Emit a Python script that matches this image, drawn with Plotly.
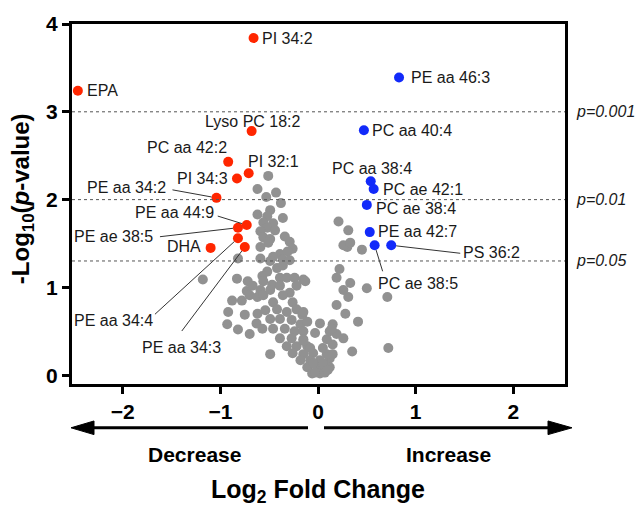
import math
import plotly.graph_objects as go

# ---------------- data ----------------
grey_x = [-0.51, -0.62, -0.43, -0.53, -0.38, -0.49, -0.62, -0.52, -0.36, -0.46,
          -0.56, -0.52, -0.44, -0.59, -0.56, -0.49, -0.34, -0.29, -0.51, -0.59,
          -0.26, -0.39, -0.31, -0.46, -0.36, -0.49, -0.29, -0.59, -0.82, -0.42,
          -0.36, -0.52, -0.57, -0.39, -0.32, -0.24, -0.15, -0.56, -1.18, -0.83,
          -0.72, -0.47, -0.73, -0.67, -0.59, -0.70, -0.62, -0.88, -0.78, -0.56,
          -0.49, -0.39, -0.29, -0.22, -0.36, -0.46, -0.26, -0.92, -0.75, -0.62,
          -0.54, -0.42, -0.32, -0.22, -0.16, -0.49, -0.39, -0.27, -0.18, -0.93,
          -0.82, -0.70, -0.63, -0.57, -0.46, -0.34, -0.24, -0.15, -0.39, -0.27,
          -0.15, -0.32, -0.22, -0.11, -0.49, -0.26, -0.15, -0.05, -0.18, -0.08,
          0.02, -0.11, -0.01, -0.06, 0.02, 0.07, 0.12, 0.09, 0.05, 0.15,
          0.09, 0.15, 0.02, 0.12, 0.19, 0.14, 0.26, -0.03, -0.15, -0.08,
          0.15, 0.12, 0.35, 0.41, 0.28, 0.19, 0.31, 0.50, 0.71, 0.72,
          0.26, 0.33, 0.19, 0.22, 0.45, 0.30, 0.26, 0.33, 0.31, 0.21,
          -0.13, -0.11, -0.15, -0.03, 0.07, 0.05, -0.05, 0.10]
grey_y = [2.27, 2.12, 2.08, 2.03, 1.96, 1.88, 1.83, 1.81, 1.79, 1.73,
          1.74, 1.68, 1.65, 1.64, 1.57, 1.55, 1.58, 1.52, 1.51, 1.46,
          1.44, 1.38, 1.41, 1.35, 1.32, 1.30, 1.31, 1.33, 1.33, 1.22,
          1.25, 1.18, 1.13, 1.11, 1.11, 1.11, 1.09, 1.07, 1.09, 1.10,
          1.07, 1.03, 0.96, 1.02, 0.97, 0.91, 0.89, 0.85, 0.85, 0.91,
          0.97, 1.02, 0.94, 1.02, 0.91, 0.83, 0.83, 0.72, 0.69, 0.70,
          0.74, 0.75, 0.72, 0.75, 0.69, 0.64, 0.64, 0.63, 0.58, 0.58,
          0.52, 0.47, 0.59, 0.53, 0.53, 0.53, 0.50, 0.50, 0.42, 0.42,
          0.41, 0.33, 0.33, 0.33, 0.24, 0.25, 0.24, 0.25, 0.17, 0.17,
          0.17, 0.09, 0.09, 0.02, 0.02, 0.11, 0.19, 0.24, 0.31, 0.35,
          0.41, 0.58, 0.59, 0.50, 0.47, 0.53, 0.42, 0.48, 0.39, 0.31,
          0.24, 0.09, 0.27, 0.61, 0.70, 0.80, 0.89, 0.99, 0.89, 0.31,
          0.97, 1.05, 1.11, 1.21, 1.43, 1.46, 1.48, 1.51, 1.65, 1.75,
          1.07, 0.61, 0.72, 0.03, 0.03, 0.13, 0.14, 0.06]

red_names = ["PI 34:2", "EPA", "Lyso PC 18:2", "PC aa 42:2", "PI 32:1", "PI 34:3",
             "PE aa 34:2", "PE aa 44:9", "PE ae 38:5", "PE aa 34:4", "PE aa 34:3", "DHA"]
red_x = [-0.66, -2.46, -0.68, -0.92, -0.71, -0.83, -1.04, -0.73, -0.82, -0.82, -0.75, -1.10]
red_y = [3.84, 3.24, 2.78, 2.43, 2.30, 2.24, 2.02, 1.71, 1.68, 1.56, 1.46, 1.45]

blue_names = ["PE aa 46:3", "PC aa 40:4", "PC aa 38:4", "PC ae 42:1", "PC ae 38:4",
              "PE aa 42:7", "PC ae 38:5", "PS 36:2"]
blue_x = [0.83, 0.47, 0.54, 0.57, 0.50, 0.53, 0.58, 0.75]
blue_y = [3.39, 2.79, 2.21, 2.12, 1.94, 1.63, 1.48, 1.48]

p_thresholds = [0.001, 0.01, 0.05]
p_labels = ["p=0.001", "p=0.01", "p=0.05"]

x_ticks = [-2, -1, 0, 1, 2]
y_ticks = [0, 1, 2, 3, 4]

# ---------------- style ----------------
FONT = "Liberation Sans, Arial, Helvetica, sans-serif"
GREY = "rgb(145,145,145)"
RED = "rgb(255,38,0)"
BLUE = "rgb(18,42,250)"
W, H = 637, 517
ML, MR, MT, MB = 72, 72, 14, 133
PW, PH = W - ML - MR, H - MT - MB

# label placement: (xshift, yshift) of text centre from the point in px (yshift up)
label_shift = {
    "PI 34:2": (34, 0), "EPA": (25, 0), "Lyso PC 18:2": (1, 10), "PC aa 42:2": (-41, 14),
    "PI 32:1": (25, 12), "PI 34:3": (-34, 0), "PE aa 34:2": (-90, 10), "PE aa 44:9": (-72, 13),
    "PE ae 38:5": (-124, -9), "PE aa 34:4": (-124, -82), "PE aa 34:3": (-63, -100),
    "DHA": (-27, 1),
    "PE aa 46:3": (51, 0), "PC aa 40:4": (48, 0), "PC aa 38:4": (1, 13), "PC ae 42:1": (49, 0),
    "PC ae 38:4": (49, -4), "PE aa 42:7": (48, 1), "PC ae 38:5": (43, -38), "PS 36:2": (100, -7),
}
# leader-line tail offsets from the point in px (screen direction, y down)
leader = {
    "PE aa 34:2": (-44, -8), "PE aa 44:9": (-29, -9), "PE ae 38:5": (-78, 9),
    "PE aa 34:4": (-83, 76), "PE aa 34:3": (-63, 84), "PS 36:2": (69, 8), "PC ae 38:5": (8, 26),
}
STANDOFF = 5


def px(xp):
    return (xp - ML) / PW


def py(yp):
    return (H - MB - yp) / PH


fig = go.Figure()
fig.add_trace(go.Scatter(x=grey_x, y=grey_y, mode="markers",
                         marker=dict(color=GREY, size=10), hoverinfo="skip"))
fig.add_trace(go.Scatter(x=red_x, y=red_y, mode="markers", text=red_names,
                         marker=dict(color=RED, size=10)))
fig.add_trace(go.Scatter(x=blue_x, y=blue_y, mode="markers", text=blue_names,
                         marker=dict(color=BLUE, size=10)))

annotations = []
shapes = []
for names, xs, ys in [(red_names, red_x, red_y), (blue_names, blue_x, blue_y)]:
    for n, xv, yv in zip(names, xs, ys):
        dx, dy = label_shift[n]
        annotations.append(dict(x=xv, y=yv, xref="x", yref="y", text=n, showarrow=False,
                                xshift=dx, yshift=dy, xanchor="center", yanchor="middle",
                                font=dict(family=FONT, size=16, color="#1a1a1a")))
        if n in leader:
            tx, ty = leader[n]
            ty = -ty  # to up-positive
            d = math.hypot(tx, ty)
            sx, sy = tx * STANDOFF / d, ty * STANDOFF / d
            shapes.append(dict(type="line", xref="x", yref="y",
                               xsizemode="pixel", ysizemode="pixel",
                               xanchor=xv, yanchor=yv,
                               x0=sx, y0=sy, x1=tx, y1=ty,
                               line=dict(color="#333", width=1)))

for p, lab in zip(p_thresholds, p_labels):
    yv = -math.log10(p)
    shapes.append(dict(type="line", xref="paper", yref="y", x0=0, x1=1, y0=yv, y1=yv,
                       line=dict(color="#555", width=1, dash="dot")))
    annotations.append(dict(x=1, y=yv, xref="paper", yref="y", text=f"<i>{lab}</i>",
                            showarrow=False, xanchor="left", yanchor="middle", xshift=9,
                            font=dict(family=FONT, size=16, color="#1a1a1a")))

# direction arrows below the x axis
ay_px = 429
shapes += [
    dict(type="line", xref="paper", yref="paper", x0=px(92), x1=px(308), y0=py(ay_px), y1=py(ay_px),
         line=dict(color="black", width=3)),
    dict(type="path", xref="paper", yref="paper",
         path=f"M {px(71)},{py(ay_px)} L {px(94)},{py(ay_px-7)} L {px(94)},{py(ay_px+7)} Z",
         fillcolor="black", line=dict(color="black", width=1)),
    dict(type="line", xref="paper", yref="paper", x0=px(324), x1=px(549), y0=py(ay_px), y1=py(ay_px),
         line=dict(color="black", width=3)),
    dict(type="path", xref="paper", yref="paper",
         path=f"M {px(572)},{py(ay_px)} L {px(548)},{py(ay_px-7)} L {px(548)},{py(ay_px+7)} Z",
         fillcolor="black", line=dict(color="black", width=1)),
]

annotations += [
    dict(x=px(194), y=py(456), xref="paper", yref="paper", text="<b>Decrease</b>", showarrow=False,
         xanchor="center", yanchor="middle", font=dict(family=FONT, size=21, color="black")),
    dict(x=px(448), y=py(456), xref="paper", yref="paper", text="<b>Increase</b>", showarrow=False,
         xanchor="center", yanchor="middle", font=dict(family=FONT, size=21, color="black")),
    dict(x=px(318), y=py(494), xref="paper", yref="paper", text="<b>Log<sub>2</sub> Fold Change</b>",
         showarrow=False, xanchor="center", yanchor="middle",
         font=dict(family=FONT, size=25, color="black")),
    dict(x=px(22), y=py(194), xref="paper", yref="paper",
         text="<b>-Log<sub>10</sub>(<i>p</i>-value)</b>", showarrow=False, textangle=-90,
         xanchor="center", yanchor="middle",
         font=dict(family=FONT, size=24, color="black")),
]

axis_common = dict(showgrid=False, zeroline=False, showline=True, linecolor="black", linewidth=3,
                   mirror=True, ticks="outside", ticklen=7, tickwidth=2.5, tickcolor="black",
                   tickfont=dict(family=FONT, size=21, color="black", weight="bold"))

fig.update_layout(
    width=W, height=H, margin=dict(l=ML, r=MR, t=MT, b=MB),
    paper_bgcolor="white", plot_bgcolor="white", showlegend=False,
    xaxis=dict(range=[-2.52, 2.53], tickvals=x_ticks, **axis_common),
    yaxis=dict(range=[-0.1, 4.0], tickvals=y_ticks, **axis_common),
    shapes=shapes, annotations=annotations,
)

fig.write_html("out.html")
